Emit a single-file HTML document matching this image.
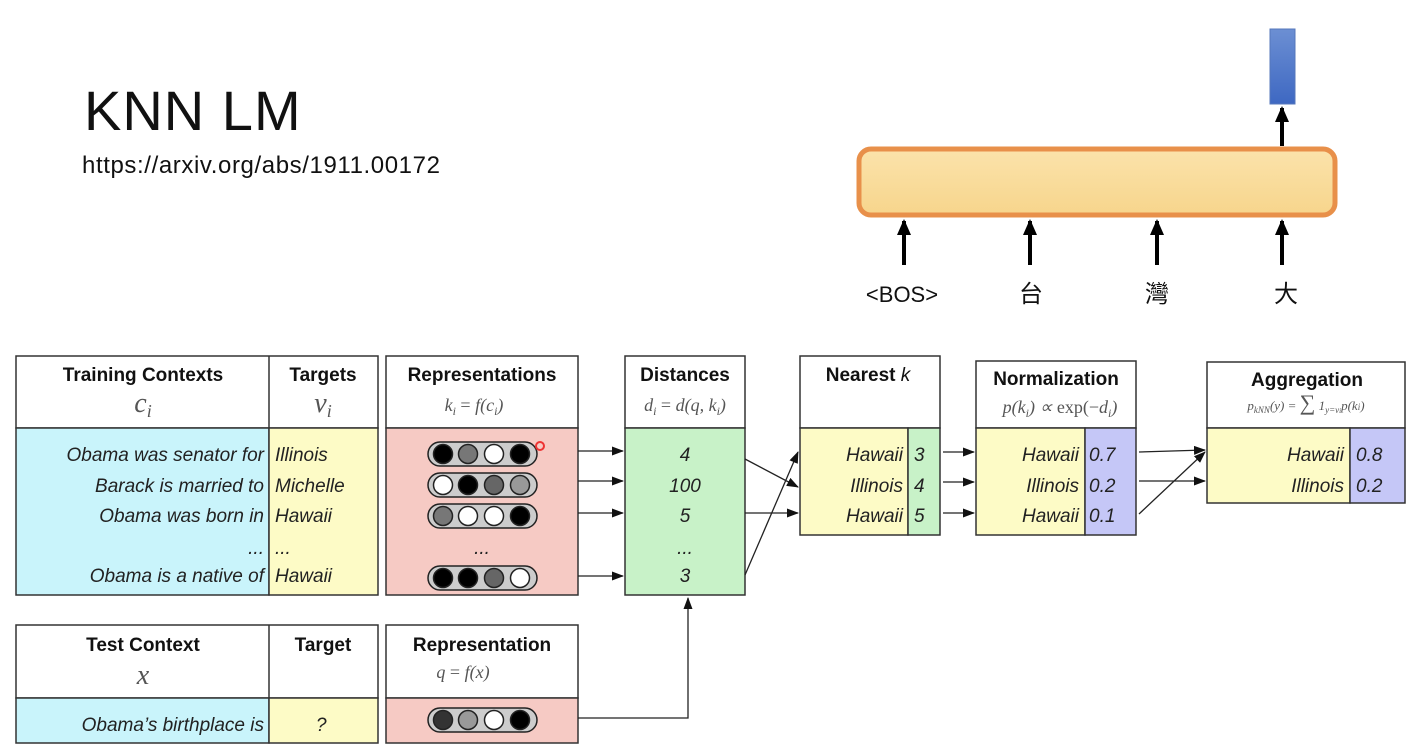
<!DOCTYPE html>
<html><head><meta charset="utf-8"><style>
body{margin:0;background:#fff;}
svg{display:block;}
.s{font-family:"Liberation Sans",sans-serif;}
.i{font-family:"Liberation Sans",sans-serif;font-style:italic;font-size:19px;fill:#222;}
.h{font-family:"Liberation Sans",sans-serif;font-weight:bold;font-size:19px;fill:#111;}
.m{font-family:"Liberation Serif",serif;font-style:italic;fill:#555;}
</style></head><body>
<svg width="1418" height="752" viewBox="0 0 1418 752" xmlns="http://www.w3.org/2000/svg">
<defs>
<marker id="a" markerWidth="12" markerHeight="9" refX="11" refY="4.5" orient="auto" markerUnits="userSpaceOnUse"><path d="M0,0 L12,4.5 L0,9 z" fill="#111"/></marker>
<marker id="b" markerWidth="16" markerHeight="14" refX="14" refY="7" orient="auto" markerUnits="userSpaceOnUse"><path d="M0,0 L16,7 L0,14 z" fill="#000"/></marker>
<linearGradient id="og" x1="0" y1="0" x2="0" y2="1"><stop offset="0" stop-color="#fbe3ab"/><stop offset="1" stop-color="#f7d58c"/></linearGradient>
<linearGradient id="bg" x1="0" y1="0" x2="0" y2="1"><stop offset="0" stop-color="#6c8fd3"/><stop offset="1" stop-color="#3e68c2"/></linearGradient>
</defs>
<text x="84" y="130" class="s" font-size="56" letter-spacing="1" fill="#111">KNN LM</text>
<text x="82" y="173" class="s" font-size="24" letter-spacing="0.6" fill="#111">https://arxiv.org/abs/1911.00172</text>

<rect x="1270" y="29" width="25" height="75" fill="url(#bg)" stroke="#5577bb" stroke-width="1"/>
<rect x="859" y="149" width="476" height="66" rx="12" fill="url(#og)" stroke="#e8904a" stroke-width="5"/>
<g stroke="#000" stroke-width="4">
<line x1="1282" y1="146" x2="1282" y2="108" marker-end="url(#b)"/>
<line x1="904" y1="265" x2="904" y2="221" marker-end="url(#b)"/>
<line x1="1030" y1="265" x2="1030" y2="221" marker-end="url(#b)"/>
<line x1="1157" y1="265" x2="1157" y2="221" marker-end="url(#b)"/>
<line x1="1282" y1="265" x2="1282" y2="221" marker-end="url(#b)"/>
</g>
<text x="902" y="302" class="s" font-size="22" text-anchor="middle" fill="#111">&lt;BOS&gt;</text>
<text x="1031" y="302" font-family="'Noto Sans CJK TC',sans-serif" font-size="24" text-anchor="middle" fill="#111">台</text>
<text x="1157" y="302" font-family="'Noto Sans CJK TC',sans-serif" font-size="24" text-anchor="middle" fill="#111">灣</text>
<text x="1286" y="302" font-family="'Noto Sans CJK TC',sans-serif" font-size="24" text-anchor="middle" fill="#111">大</text>

<g stroke="#333" stroke-width="1.5">
<rect x="16" y="356" width="362" height="72" fill="#fff"/>
<rect x="16" y="428" width="253" height="167" fill="#c9f4fb"/>
<rect x="269" y="428" width="109" height="167" fill="#fdfbc6"/>
<line x1="269" y1="356" x2="269" y2="428"/>
<rect x="386" y="356" width="192" height="72" fill="#fff"/>
<rect x="386" y="428" width="192" height="167" fill="#f6cac4"/>
<rect x="16" y="625" width="362" height="73" fill="#fff"/>
<rect x="16" y="698" width="253" height="45" fill="#c9f4fb"/>
<rect x="269" y="698" width="109" height="45" fill="#fdfbc6"/>
<line x1="269" y1="625" x2="269" y2="698"/>
<rect x="386" y="625" width="192" height="73" fill="#fff"/>
<rect x="386" y="698" width="192" height="45" fill="#f6cac4"/>
<rect x="625" y="356" width="120" height="72" fill="#fff"/>
<rect x="625" y="428" width="120" height="167" fill="#c8f2c8"/>
<rect x="800" y="356" width="140" height="72" fill="#fff"/>
<rect x="800" y="428" width="108" height="107" fill="#fdfbc6"/>
<rect x="908" y="428" width="32" height="107" fill="#c8f2c8"/>
<rect x="976" y="361" width="160" height="67" fill="#fff"/>
<rect x="976" y="428" width="109" height="107" fill="#fdfbc6"/>
<rect x="1085" y="428" width="51" height="107" fill="#c5c7f7"/>
<rect x="1207" y="362" width="198" height="66" fill="#fff"/>
<rect x="1207" y="428" width="143" height="75" fill="#fdfbc6"/>
<rect x="1350" y="428" width="55" height="75" fill="#c5c7f7"/>
</g>

<text x="143" y="381" class="h" text-anchor="middle">Training Contexts</text>
<text x="143" y="412" class="m" font-size="28" text-anchor="middle" fill="#333">c<tspan font-size="18" dy="5">i</tspan></text>
<text x="323" y="381" class="h" text-anchor="middle">Targets</text>
<text x="323" y="412" class="m" font-size="28" text-anchor="middle" fill="#333">v<tspan font-size="18" dy="5">i</tspan></text>
<text x="482" y="381" class="h" text-anchor="middle">Representations</text>
<text x="474" y="411" class="m" font-size="18" text-anchor="middle">k<tspan font-size="12" dy="4">i</tspan><tspan dy="-4" font-style="normal"> = </tspan>f(c<tspan font-size="12" dy="4">i</tspan><tspan dy="-4">)</tspan></text>
<text x="685" y="381" class="h" text-anchor="middle">Distances</text>
<text x="685" y="411" class="m" font-size="18" text-anchor="middle">d<tspan font-size="12" dy="4">i</tspan><tspan dy="-4" font-style="normal"> = </tspan>d(q, k<tspan font-size="12" dy="4">i</tspan><tspan dy="-4">)</tspan></text>
<text x="868" y="381" class="h" text-anchor="middle">Nearest <tspan font-weight="normal" font-style="italic">k</tspan></text>
<text x="1056" y="385" class="h" text-anchor="middle">Normalization</text>
<text x="1060" y="413" class="m" font-size="18" text-anchor="middle">p(k<tspan font-size="12" dy="4">i</tspan><tspan dy="-4">) ∝ </tspan><tspan font-style="normal">exp(−</tspan>d<tspan font-size="12" dy="4">i</tspan><tspan dy="-4">)</tspan></text>
<text x="1307" y="386" class="h" text-anchor="middle">Aggregation</text>
<text x="1306" y="410" class="m" font-size="13" text-anchor="middle">p<tspan font-size="9" dy="3">kNN</tspan><tspan dy="-3">(y) = </tspan><tspan font-size="22" font-style="normal">∑</tspan> 1<tspan font-size="9" dy="3">y=v<tspan font-size="7">i</tspan></tspan><tspan dy="-3">p(k<tspan font-size="9">i</tspan>)</tspan></text>
<text x="143" y="651" class="h" text-anchor="middle">Test Context</text>
<text x="143" y="684" class="m" font-size="28" text-anchor="middle" fill="#333">x</text>
<text x="323" y="651" class="h" text-anchor="middle">Target</text>
<text x="482" y="651" class="h" text-anchor="middle">Representation</text>
<text x="463" y="678" class="m" font-size="18" text-anchor="middle">q<tspan font-style="normal"> = </tspan>f(x)</text>

<g class="i" text-anchor="end">
<text x="264" y="461">Obama was senator for</text>
<text x="264" y="492">Barack is married to</text>
<text x="264" y="522">Obama was born in</text>
<text x="264" y="554">...</text>
<text x="264" y="582">Obama is a native of</text>
<text x="264" y="731">Obama’s birthplace is</text>
</g>
<g class="i">
<text x="275" y="461">Illinois</text>
<text x="275" y="492">Michelle</text>
<text x="275" y="522">Hawaii</text>
<text x="275" y="554">...</text>
<text x="275" y="582">Hawaii</text>
<text x="316" y="731">?</text>
</g>
<text x="482" y="554" class="i" text-anchor="middle">...</text>
<g class="i" text-anchor="middle">
<text x="685" y="461">4</text><text x="685" y="492">100</text><text x="685" y="522">5</text><text x="685" y="554">...</text><text x="685" y="582">3</text>
</g>
<g class="i" text-anchor="end">
<text x="903" y="461">Hawaii</text><text x="903" y="492">Illinois</text><text x="903" y="522">Hawaii</text>
<text x="1079" y="461">Hawaii</text><text x="1079" y="492">Illinois</text><text x="1079" y="522">Hawaii</text>
<text x="1344" y="461">Hawaii</text><text x="1344" y="492">Illinois</text>
</g>
<g class="i">
<text x="914" y="461">3</text><text x="914" y="492">4</text><text x="914" y="522">5</text>
<text x="1089" y="461">0.7</text><text x="1089" y="492">0.2</text><text x="1089" y="522">0.1</text>
<text x="1356" y="461">0.8</text><text x="1356" y="492">0.2</text>
</g>

<g stroke="#222" stroke-width="1.5">
<g transform="translate(0,454)"><rect x="428" y="-12" width="109" height="24" rx="12" fill="#ccc"/><circle cx="443" cy="0" r="9.5" fill="#000"/><circle cx="468" cy="0" r="9.5" fill="#777"/><circle cx="494" cy="0" r="9.5" fill="#fff"/><circle cx="520" cy="0" r="9.5" fill="#000"/></g>
<g transform="translate(0,485)"><rect x="428" y="-12" width="109" height="24" rx="12" fill="#ccc"/><circle cx="443" cy="0" r="9.5" fill="#fff"/><circle cx="468" cy="0" r="9.5" fill="#000"/><circle cx="494" cy="0" r="9.5" fill="#666"/><circle cx="520" cy="0" r="9.5" fill="#999"/></g>
<g transform="translate(0,516)"><rect x="428" y="-12" width="109" height="24" rx="12" fill="#ccc"/><circle cx="443" cy="0" r="9.5" fill="#777"/><circle cx="468" cy="0" r="9.5" fill="#fff"/><circle cx="494" cy="0" r="9.5" fill="#fff"/><circle cx="520" cy="0" r="9.5" fill="#000"/></g>
<g transform="translate(0,578)"><rect x="428" y="-12" width="109" height="24" rx="12" fill="#ccc"/><circle cx="443" cy="0" r="9.5" fill="#000"/><circle cx="468" cy="0" r="9.5" fill="#000"/><circle cx="494" cy="0" r="9.5" fill="#666"/><circle cx="520" cy="0" r="9.5" fill="#fff"/></g>
<g transform="translate(0,720)"><rect x="428" y="-12" width="109" height="24" rx="12" fill="#ccc"/><circle cx="443" cy="0" r="9.5" fill="#333"/><circle cx="468" cy="0" r="9.5" fill="#999"/><circle cx="494" cy="0" r="9.5" fill="#fff"/><circle cx="520" cy="0" r="9.5" fill="#000"/></g>
</g>
<circle cx="540" cy="446" r="4" fill="none" stroke="#e33" stroke-width="2"/>

<g stroke="#222" stroke-width="1.3" fill="none">
<line x1="578" y1="451" x2="623" y2="451" marker-end="url(#a)"/>
<line x1="578" y1="481" x2="623" y2="481" marker-end="url(#a)"/>
<line x1="578" y1="513" x2="623" y2="513" marker-end="url(#a)"/>
<line x1="578" y1="576" x2="623" y2="576" marker-end="url(#a)"/>
<polyline points="578,718 688,718 688,598" marker-end="url(#a)"/>
<line x1="745" y1="459" x2="798" y2="487" marker-end="url(#a)"/>
<line x1="745" y1="513" x2="798" y2="513" marker-end="url(#a)"/>
<line x1="745" y1="575" x2="798" y2="452" marker-end="url(#a)"/>
<line x1="943" y1="452" x2="974" y2="452" marker-end="url(#a)"/>
<line x1="943" y1="482" x2="974" y2="482" marker-end="url(#a)"/>
<line x1="943" y1="513" x2="974" y2="513" marker-end="url(#a)"/>
<line x1="1139" y1="452" x2="1205" y2="450" marker-end="url(#a)"/>
<line x1="1139" y1="481" x2="1205" y2="481" marker-end="url(#a)"/>
<line x1="1139" y1="514" x2="1205" y2="452" marker-end="url(#a)"/>
</g>
</svg>
</body></html>
